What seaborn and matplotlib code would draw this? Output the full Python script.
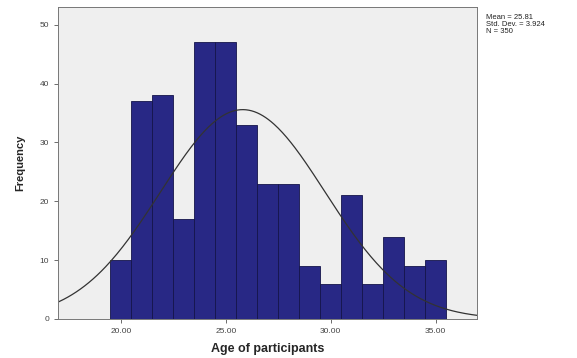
import numpy as np
import pandas as pd
import matplotlib
matplotlib.use("Agg")
import matplotlib.pyplot as plt
import seaborn as sns

# ages (bin centres) and counts
ages = [20, 21, 22, 23, 24, 25, 26, 27, 28, 29, 30, 31, 32, 33, 34, 35]
counts = [10, 37, 38, 17, 47, 47, 33, 23, 23, 9, 6, 21, 6, 14, 9, 10]
mean_age = 25.81
sd_age = 3.924
n_total = 350

sns.set_style("white")
plt.rcParams['font.family'] = ['Liberation Sans', 'DejaVu Sans']

df = pd.DataFrame({"age": ages, "count": counts})

fig = plt.figure(figsize=(5.77, 3.58), dpi=100)
ax = fig.add_axes([0.1005, 0.109, 0.727, 0.871])
ax.set_facecolor('#efefef')

sns.histplot(data=df, x="age", weights="count", discrete=True, ax=ax,
             color='#282885', edgecolor='#14144a', linewidth=0.6, alpha=1)

# fitted normal curve
xs = np.linspace(17, 37, 300)
ys = n_total * 1.0 / (sd_age * np.sqrt(2 * np.pi)) * np.exp(-0.5 * ((xs - mean_age) / sd_age) ** 2)
sns.lineplot(x=xs, y=ys, ax=ax, color='#333333', linewidth=0.9)

ax.set_xlim(17, 37)
ax.set_ylim(0, 53)
ax.set_xticks([20, 25, 30, 35])
ax.set_xticklabels(['20.00', '25.00', '30.00', '35.00'])
ax.set_yticks([0, 10, 20, 30, 40, 50])
ax.tick_params(axis='both', labelsize=6, length=3, width=0.6, color='#555555',
               labelcolor='#444444', direction='out', bottom=True, left=True)
for s in ax.spines.values():
    s.set_color('#777777')
    s.set_linewidth(0.7)

ax.set_xlabel('Age of participants', fontsize=9, fontweight='bold', labelpad=6)
ax.set_ylabel('Frequency', fontsize=8, fontweight='bold', labelpad=10)

fig.text(0.843, 0.96, f'Mean = {mean_age}\nStd. Dev. = {sd_age}\nN = {n_total}',
         fontsize=5.5, va='top', ha='left', color='#222222', linespacing=1.0)

fig.savefig('out.png', dpi=100, facecolor='white')
